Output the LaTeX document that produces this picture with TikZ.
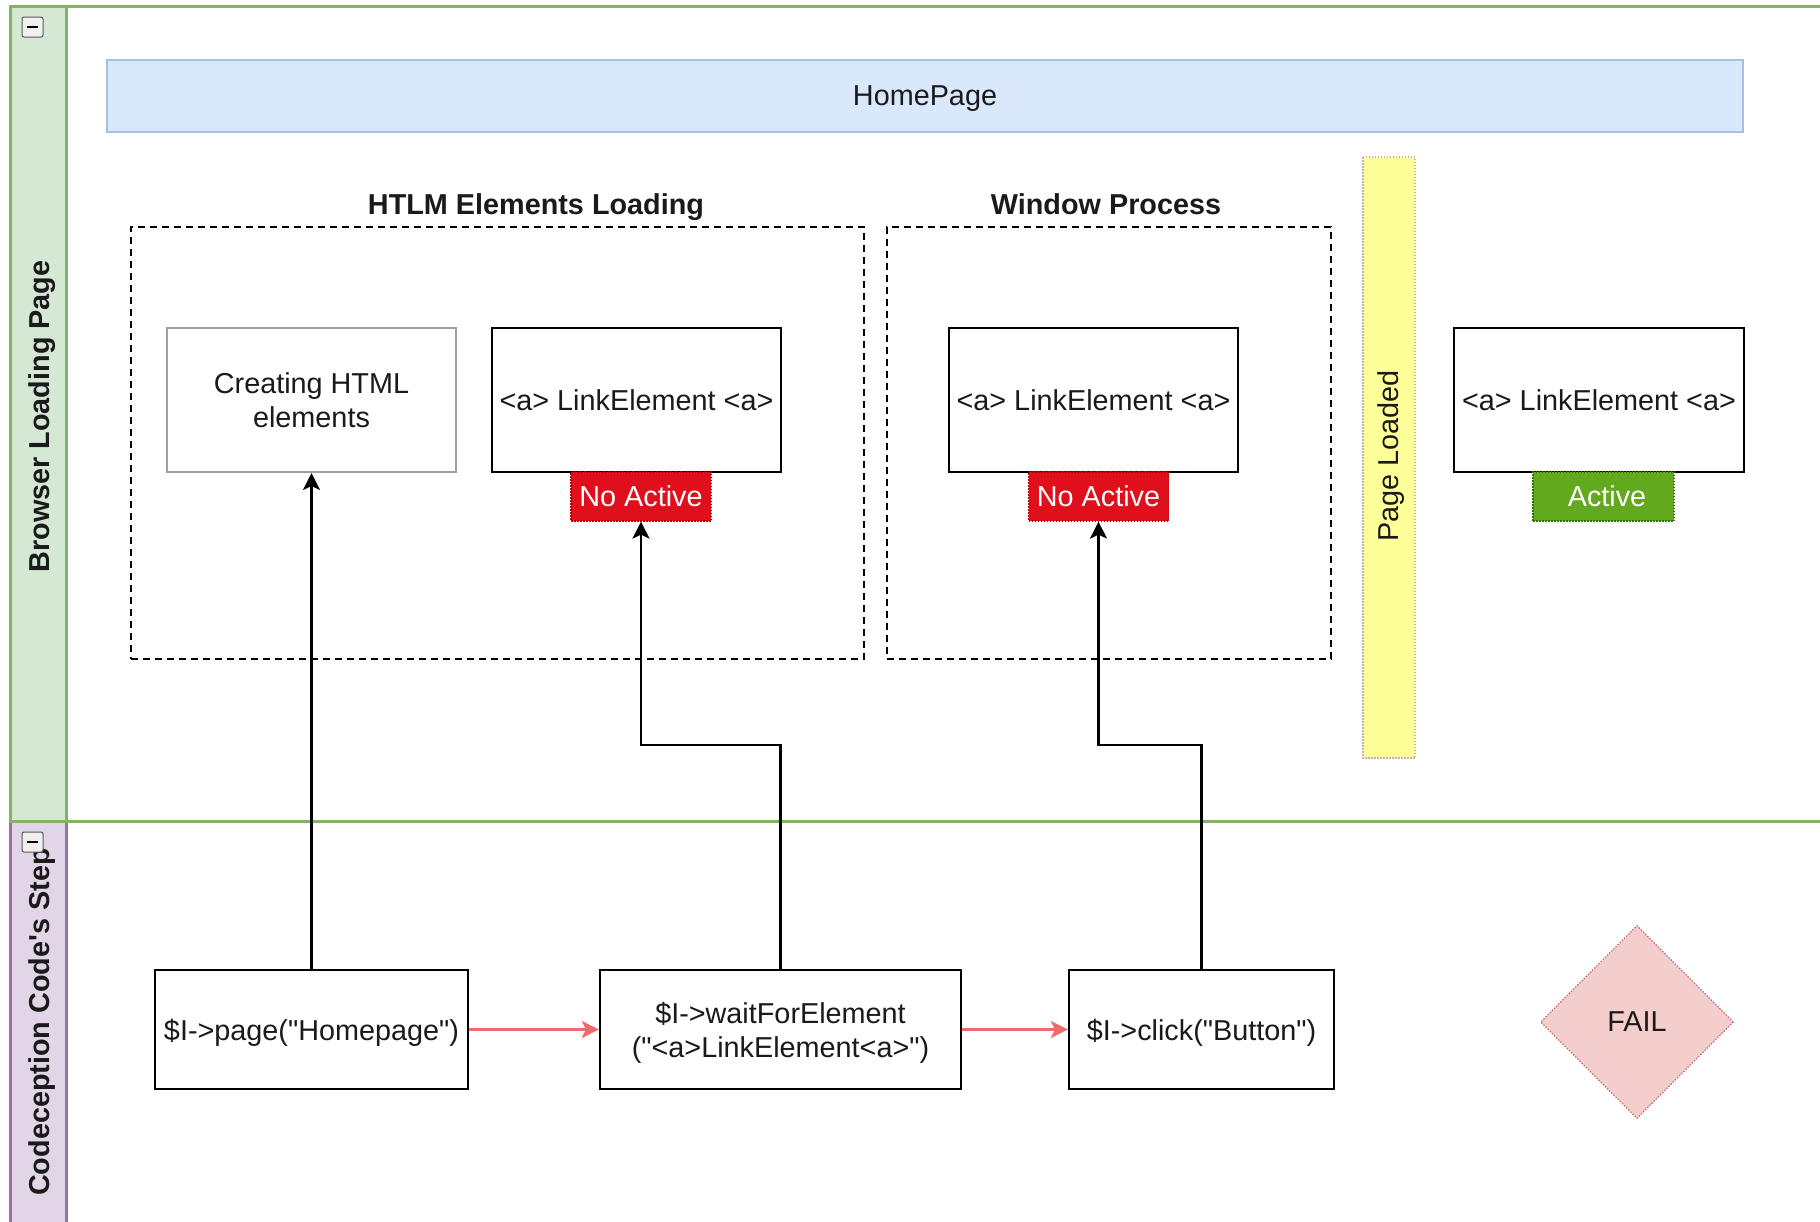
\documentclass[tikz,border=0pt]{standalone}
\usepackage{fontspec}
\newfontfamily\dio{Liberation Sans}
\usetikzlibrary{arrows.meta,shapes.geometric}

\definecolor{lgfill}{HTML}{D5E8D4}
\definecolor{lgline}{HTML}{82B366}
\definecolor{lpfill}{HTML}{E1D5E7}
\definecolor{lpline}{HTML}{9673A6}
\definecolor{hpfill}{HTML}{DAE8FC}
\definecolor{hpline}{HTML}{A9C0E3}
\definecolor{ylfill}{HTML}{FFFF99}
\definecolor{ylline}{HTML}{C9AFB6}
\definecolor{nafill}{HTML}{E10E1C}
\definecolor{naline}{HTML}{B20000}
\definecolor{acfill}{HTML}{62A91D}
\definecolor{acline}{HTML}{2D7600}
\definecolor{flfill}{HTML}{F4CDCD}
\definecolor{flline}{HTML}{C07070}
\definecolor{flow}{HTML}{EF6B6B}
\definecolor{ink}{HTML}{1A1A1A}

\tikzset{
  txt/.style={font=\dio\fontsize{28.8}{33.7}\selectfont, text=ink},
  lanetitle/.style={font=\dio\bfseries\fontsize{28.8}{33.7}\selectfont, text=ink, rotate=90},
  grouplabel/.style={font=\dio\bfseries\fontsize{28.8}{33.7}\selectfont, text=ink, text depth=0pt},
  stepbox/.style={txt, rectangle, draw=black, line width=2.3pt, fill=white,
    inner sep=0pt, align=center, minimum width=289pt, minimum height=144pt},
  codebox/.style={txt, rectangle, draw=black, line width=2.3pt, fill=white,
    inner sep=0pt, align=center, minimum height=119pt, text depth=0pt},
  statetag/.style={txt, text=white, rectangle, inner sep=0pt,
    minimum width=140pt, minimum height=49pt, line width=1.2pt,
    dash pattern=on 1.5pt off 1.5pt},
  groupbox/.style={rectangle, draw=black, line width=2pt,
    dash pattern=on 7pt off 5pt, inner sep=0pt},
  link/.style={line width=2.3pt, draw=black,
    -{Stealth[length=17pt, width=17pt, inset=4pt]}},
  flowlink/.style={line width=2.3pt, draw=flow,
    -{Stealth[length=17pt, width=17pt, inset=4pt, fill=flow]}},
}

\begin{document}
\begin{tikzpicture}[x=1pt, y=-1pt]
\useasboundingbox (0,0) rectangle (1820,1221);

% swimlane headers
\fill[lgfill] (10,6) rectangle (66,821);
\fill[lpfill] (10,821) rectangle (66,1225);
\draw[lpline, line width=3pt] (10,821) -- (10,1225);
\draw[lpline, line width=3pt] (66,821) -- (66,1225);
\draw[lgline, line width=3pt] (1825,6) -- (10,6) -- (10,821) -- (1825,821);
\draw[lgline, line width=3pt] (66,6) -- (66,821);

\node[lanetitle] (lanebrowser) at (42,416.5) {Browser Loading Page};
\node[lanetitle] (lanecode) at (42,1022) {Codeception Code's Step};

% collapse buttons
\foreach \yy in {17,832} {
  \draw[rounded corners=2pt, draw=gray!70!black, fill=gray!12, line width=1pt]
    (22,\yy) rectangle (43,\yy+20);
  \draw[black, line width=2.6pt] (27,\yy+10) -- (38,\yy+10);
}

% page banner
\node[txt, rectangle, draw=hpline, fill=hpfill, line width=2pt, text depth=0pt,
  minimum width=1636pt, minimum height=72pt, inner sep=0pt] (homepage) at (925,96) {HomePage};

% groups
\node[groupbox, minimum width=733pt, minimum height=432pt] (grploading) at (497.5,443) {};
\node[grouplabel] (lblloading) at (536,204) {HTLM Elements Loading};
\node[groupbox, minimum width=444pt, minimum height=432pt] (grpwindow) at (1109,443) {};
\node[grouplabel] (lblwindow) at (1106,204) {Window Process};

% page loaded marker
\node[txt, rotate=90, rectangle, draw=ylline, fill=ylfill, line width=1.2pt,
  dash pattern=on 1.5pt off 1.5pt, minimum width=601pt, minimum height=52pt,
  inner sep=0pt] (loaded) at (1389,457.5) {};
\node[txt, rotate=90] (loadedtext) at (1391,456) {Page Loaded};

% browser side elements
\node[stepbox, draw=gray!75, line width=2pt] (create) at (311.5,400) {Creating HTML\\elements};
\node[stepbox] (linkA) at (636.5,400) {<a> LinkElement <a>};
\node[statetag, fill=nafill, draw=naline] (naA) at (641,496.5) {No Active};
\node[stepbox] (linkB) at (1093.5,400) {<a> LinkElement <a>};
\node[statetag, fill=nafill, draw=naline] (naB) at (1098.5,496.5) {No Active};
\node[stepbox, minimum width=290pt] (linkC) at (1599,400) {<a> LinkElement <a>};
\node[statetag, fill=acfill, draw=acline, minimum width=141pt] (actC) at (1603.5,496.5) {};
\node[txt, text=white] (acttext) at (1607,496.5) {Active};

% test steps
\node[codebox, minimum width=313pt] (stpage) at (311.5,1029.5) {\$I->page("Homepage")};
\node[codebox, minimum width=361pt] (stwait) at (780.5,1029.5) {\$I->waitForElement\\("<a>LinkElement<a>")};
\node[codebox, minimum width=265pt] (stclick) at (1201.5,1029.5) {\$I->click("Button")};
\node[txt, diamond, aspect=1, fill=flfill, draw=flline, line width=1.2pt,
  dash pattern=on 1.5pt off 1.5pt, minimum width=193pt, minimum height=193pt,
  inner sep=0pt] (fail) at (1637,1022) {FAIL};

% bends
\coordinate (bendA) at (641,745);
\coordinate (bendB) at (1098.5,745);

% connectors
\draw[link] (stpage.north) -- (create.south);
\draw[link] (stwait.north) |- (bendA) -- (naA.south);
\draw[link] (stclick.north) |- (bendB) -- (naB.south);
\draw[flowlink] (stpage.east) -- (stwait.west);
\draw[flowlink] (stwait.east) -- (stclick.west);
\end{tikzpicture}
\end{document}
